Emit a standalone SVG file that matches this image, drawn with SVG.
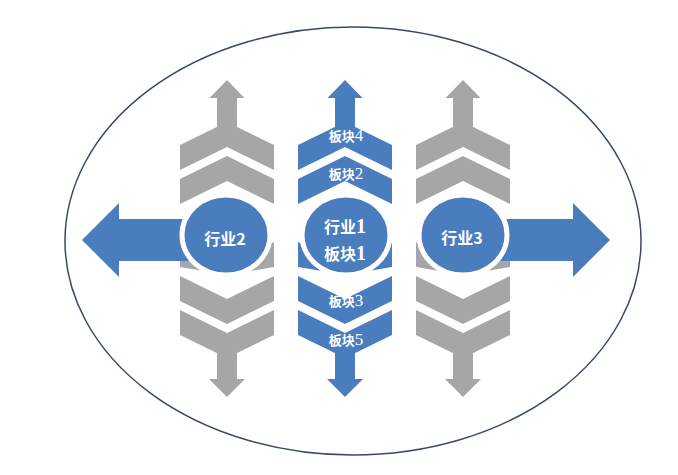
<svg xmlns="http://www.w3.org/2000/svg" width="678" height="475" viewBox="0 0 678 475">
<style>
.blue{fill:#4a7dbd}
.gray{fill:#a6a6a8}
.ring{fill:#4a7dbd;stroke:#ffffff;stroke-width:5}
.lbl{fill:#ffffff;font-family:"Noto Sans CJK SC","Noto Sans",sans-serif;font-weight:bold;font-size:16px;text-anchor:middle}
.sm{fill:#ffffff;font-family:"Liberation Serif","Noto Sans CJK SC",serif;font-weight:bold;font-size:13px;text-anchor:middle}
.md{fill:#ffffff;font-family:"Liberation Serif","Noto Sans CJK SC",serif;font-weight:bold;font-size:16px;text-anchor:middle}
.d13{font-size:17px;font-weight:normal}
.d16{font-size:20px}
</style>
<defs>
<polygon id="chevUp" points="-47,0 0,-23 47,0 47,25 0,2 -47,25"/>
<polygon id="chevDown" points="-47,0 0,23 47,0 47,25 0,48 -47,25"/>
<polygon id="chevMid" points="-47,0 0,23 47,0 47,25 0,33 -47,25"/>
<polygon id="arrUp" points="0,80 17.5,98 10,98 10,130 -10,130 -10,98 -17.5,98"/>
<polygon id="arrDown" points="-10,345 10,345 10,379 18,379 0,397 -18,379 -10,379"/>
</defs>
<rect x="0" y="0" width="678" height="475" fill="#ffffff"/>
<ellipse id="frame" cx="353" cy="241" rx="288" ry="214" fill="none" stroke="#34496b" stroke-width="1.5"/>

<g id="column-left" class="gray">
<use href="#chevUp" x="227" y="145"/>
<use href="#chevUp" x="227" y="179"/>
<use href="#chevMid" x="227" y="242"/>
<use href="#chevDown" x="227" y="276"/>
<use href="#chevDown" x="227" y="310"/>
</g>
<g id="column-middle" class="blue">
<use href="#chevUp" x="345" y="145"/>
<use href="#chevUp" x="345" y="179"/>
<use href="#chevMid" x="345" y="242"/>
<use href="#chevDown" x="345" y="276"/>
<use href="#chevDown" x="345" y="310"/>
</g>
<g id="column-right" class="gray">
<use href="#chevUp" x="463" y="145"/>
<use href="#chevUp" x="463" y="179"/>
<use href="#chevMid" x="463" y="242"/>
<use href="#chevDown" x="463" y="276"/>
<use href="#chevDown" x="463" y="310"/>
</g>

<g id="connectors">
<use href="#arrUp" x="227" class="gray"/>
<use href="#arrDown" x="227" class="gray"/>
<use href="#arrUp" x="345" class="blue"/>
<use href="#arrDown" x="345" class="blue"/>
<use href="#arrUp" x="463" class="gray"/>
<use href="#arrDown" x="463" class="gray"/>
<polygon class="blue" points="82,240 119,203 119,219 200,219 200,261 119,261 119,277"/>
<polygon class="blue" points="610,240 573,203 573,219 490,219 490,261 573,261 573,277"/>
</g>

<g id="node-hangye2">
<ellipse class="ring" cx="226" cy="235" rx="44" ry="40"/>
<text class="lbl" x="225" y="245">行业2</text>
</g>
<g id="node-hangye1">
<ellipse class="ring" cx="346" cy="235" rx="44" ry="40"/>
<text class="md" x="345" y="233">行业<tspan class="d16">1</tspan></text>
<text class="md" x="345" y="260">板块<tspan class="d16">1</tspan></text>
</g>
<g id="node-hangye3">
<ellipse class="ring" cx="463" cy="235" rx="44" ry="40"/>
<text class="lbl" x="462" y="244">行业3</text>
</g>

<g id="node-bankuai4"><text class="sm" x="346" y="141">板块<tspan class="d13">4</tspan></text></g>
<g id="node-bankuai2"><text class="sm" x="346" y="179">板块<tspan class="d13">2</tspan></text></g>
<g id="node-bankuai3"><text class="sm" x="346" y="306">板块<tspan class="d13">3</tspan></text></g>
<g id="node-bankuai5"><text class="sm" x="346" y="345">板块<tspan class="d13">5</tspan></text></g>
</svg>
